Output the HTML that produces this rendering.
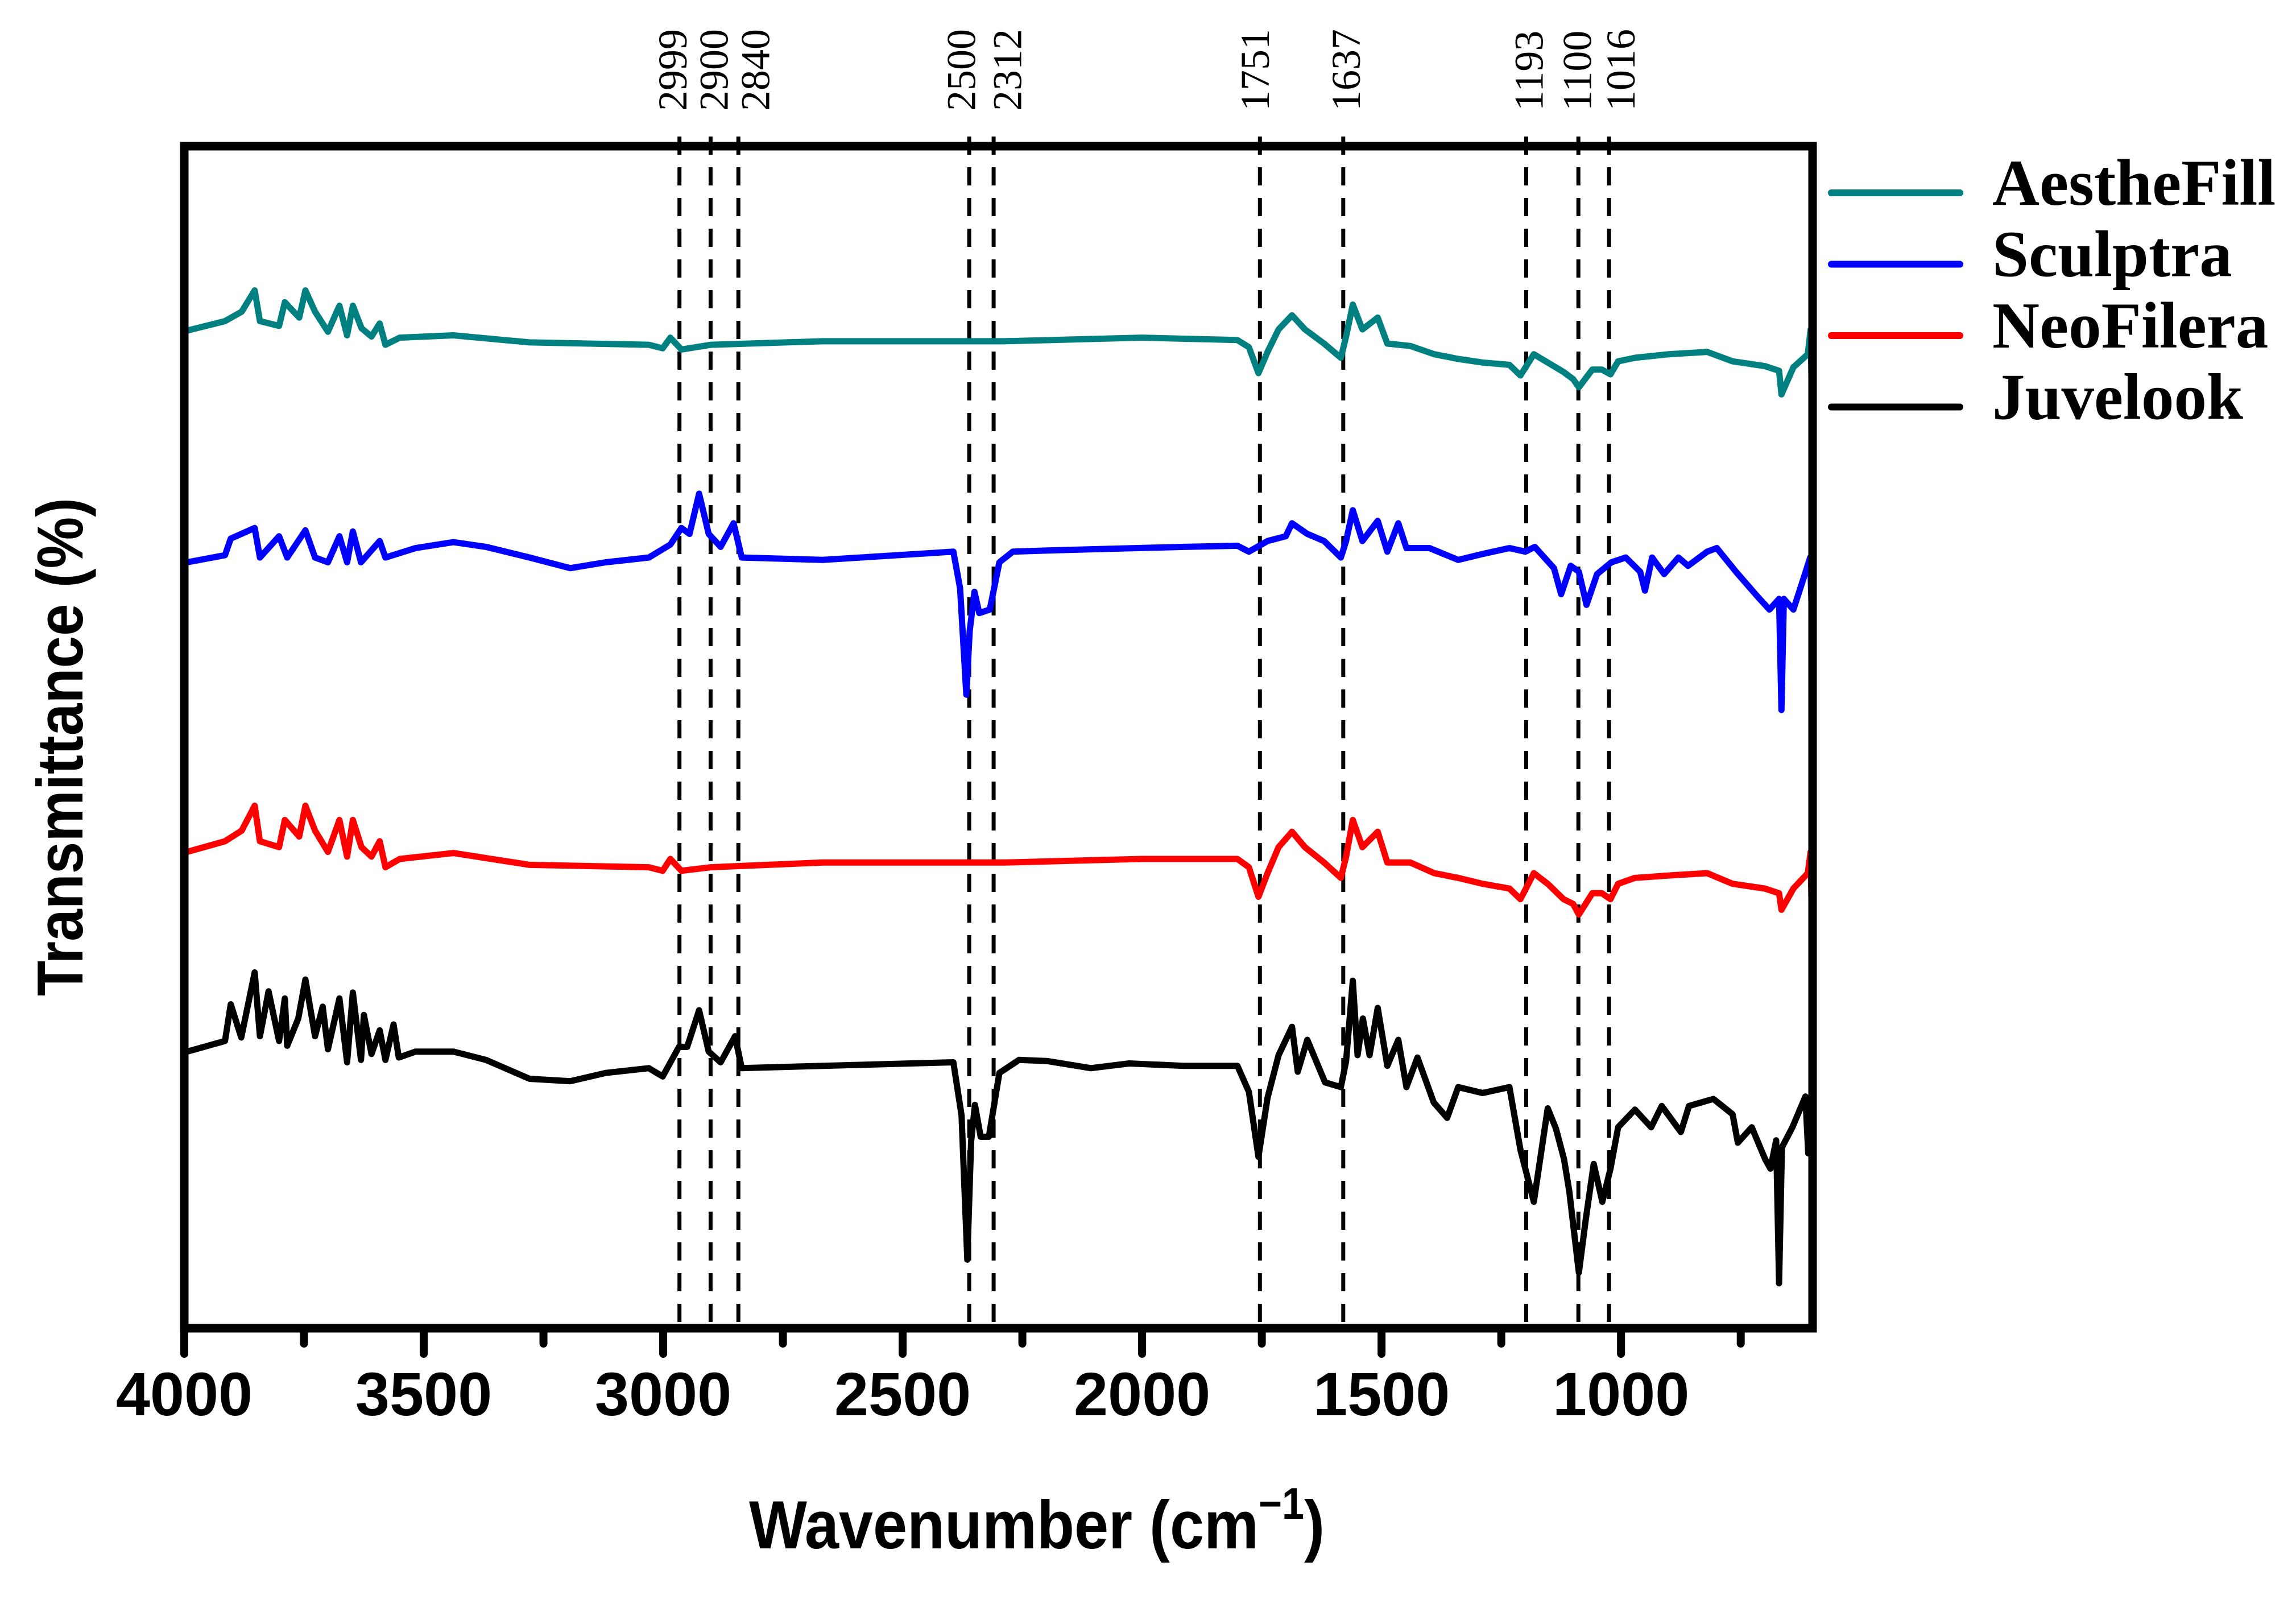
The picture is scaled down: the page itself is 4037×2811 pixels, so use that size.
<!DOCTYPE html>
<html><head><meta charset="utf-8"><style>
html,body{margin:0;padding:0;background:#fff;}
svg{display:block;}
</style></head><body>
<svg id="chart" xmlns="http://www.w3.org/2000/svg" width="4037" height="2811" viewBox="0 0 4037 2811">
<rect x="0" y="0" width="4037" height="2811" fill="#fff"/>
<g id="peaks"></g>
<g id="series"></g>
<rect x="324" y="257" width="2863" height="2078" fill="none" stroke="#000" stroke-width="15"/>
<g id="xticks"></g>
<g transform="translate(1823,2722) scale(0.9,1)">
<text x="0" y="0" text-anchor="middle" font-family="'Liberation Sans',sans-serif" font-weight="bold" font-size="120">Wavenumber (cm<tspan font-size="78" dy="-52">−1</tspan><tspan dy="52">)</tspan></text>
</g>
<text transform="translate(145,1313) rotate(-90)" text-anchor="middle" font-family="'Liberation Sans',sans-serif" font-weight="bold" font-size="114" textLength="876" lengthAdjust="spacingAndGlyphs">Transmittance (%)</text>
<g id="legend"></g>
</svg>
<script>
const xTicks = [4000, 3500, 3000, 2500, 2000, 1500, 1000];
const xMinor = [3750, 3250, 2750, 2250, 1750, 1250, 750];
const peakPos = [2966, 2901, 2843, 2361, 2310, 1754, 1580, 1198, 1089, 1025];
const peakLabelPos = [2980, 2894, 2807, 2377, 2281, 1764, 1574, 1192, 1091, 1000];
const peakText = ["2999", "2900", "2840", "2500", "2312", "1751", "1637", "1193", "1100", "1016"];
const seriesNames = ["AestheFill", "Sculptra", "NeoFilera", "Juvelook"];
const seriesColors = ["#008080", "#0000ff", "#ff0000", "#000000"];

const juvelookWn = [3994,3915,3903,3881,3853,3842,3824,3802,3790,3785,3762,3747,3727,3711,3700,3676,3660,3648,3631,3625,3609,3592,3580,3563,3552,3517,3438,3370,3279,3194,3120,3030,3001,2967,2950,2925,2905,2880,2850,2836,2667,2394,2377,2365,2357,2349,2337,2320,2298,2257,2197,2107,2027,1913,1801,1777,1757,1738,1715,1687,1675,1655,1618,1585,1574,1560,1550,1539,1525,1508,1488,1465,1448,1425,1391,1363,1340,1289,1233,1210,1182,1153,1136,1119,1108,1088,1074,1057,1039,1022,1006,971,937,915,875,858,807,767,756,727,699,688,676,670,664,642,615,609,600];
const juvelookT = [23.4,24.3,27.4,24.6,30.1,24.7,28.5,24.3,27.9,23.9,26.2,29.5,24.7,27.2,23.6,27.9,22.5,28.4,22.7,26.5,23.2,25.2,22.7,25.7,22.9,23.4,23.4,22.7,21.1,20.9,21.6,22.0,21.3,23.8,23.8,26.9,23.4,22.5,24.7,22.0,22.2,22.5,18.0,5.8,15.8,18.9,16.2,16.2,21.6,22.7,22.6,22.0,22.4,22.2,22.2,20.0,14.5,19.5,23.1,25.5,21.7,24.4,20.8,20.4,22.6,29.4,23.1,26.2,23.1,27.1,22.2,24.4,20.4,22.9,19.1,17.8,20.4,19.9,20.4,15.1,10.7,18.6,16.9,14.3,11.6,4.7,9.1,13.9,10.7,13.5,17.0,18.5,17.0,18.8,16.6,18.8,19.4,18.1,15.7,17.0,14.3,13.5,15.9,3.8,15.3,17.0,19.6,14.8,18.0];

const sculptraWn = [3994,3915,3903,3853,3842,3802,3785,3747,3727,3700,3676,3660,3648,3631,3592,3580,3517,3438,3370,3279,3194,3120,3030,2985,2962,2945,2925,2905,2880,2853,2836,2667,2394,2380,2367,2360,2350,2340,2318,2298,2270,2197,1913,1801,1777,1738,1700,1687,1655,1620,1585,1574,1560,1540,1508,1488,1465,1448,1400,1340,1289,1233,1200,1180,1140,1125,1105,1088,1072,1050,1020,990,960,950,935,910,880,860,820,800,760,715,690,670,665,660,640,620,605,600];
const sculptraT = [64.8,65.4,66.8,67.7,65.2,67.0,65.2,67.5,65.2,64.8,67.0,64.8,67.4,64.8,66.6,65.2,66.0,66.5,66.1,65.2,64.3,64.8,65.2,66.3,67.7,67.2,70.6,67.2,66.1,68.1,65.2,65.0,65.7,62.6,53.6,59.0,62.3,60.5,60.8,64.8,65.7,65.8,66.1,66.2,65.7,66.6,67.0,68.1,67.2,66.6,65.2,66.6,69.2,66.6,68.3,65.7,68.1,66.0,66.0,65.0,65.5,66.0,65.7,66.1,64.3,62.1,64.5,64.0,61.2,63.8,64.8,65.2,64.0,62.4,65.2,63.8,65.2,64.5,65.7,66.0,64.0,61.9,60.8,61.7,52.3,61.7,60.8,63.3,65.2,58.1];

const neofileraWn = [3994,3915,3880,3853,3842,3802,3790,3760,3747,3727,3700,3676,3660,3648,3630,3609,3592,3580,3550,3438,3279,3030,3001,2985,2962,2900,2667,2288,2000,1801,1777,1757,1738,1715,1687,1660,1620,1585,1574,1560,1540,1508,1488,1440,1390,1340,1289,1233,1210,1182,1153,1120,1100,1088,1060,1040,1022,1006,971,900,820,767,700,670,665,640,610,604,600];
const neofileraT = [40.3,41.2,42.1,44.2,41.2,40.7,43.0,41.6,44.2,42.1,40.3,43.0,39.9,43.0,40.7,39.9,41.2,39.0,39.7,40.2,39.2,39.0,38.7,39.7,38.7,39.0,39.4,39.4,39.7,39.7,39.0,36.5,38.5,40.7,42.0,40.7,39.4,38.1,39.9,43.0,40.7,42.0,39.4,39.4,38.5,38.1,37.6,37.2,36.3,38.5,37.6,36.3,35.9,35.0,36.8,36.8,36.3,37.6,38.1,38.3,38.5,37.6,37.2,36.8,35.4,37.2,38.5,40.3,30.2];

const aesthefillWn = [3994,3915,3880,3853,3842,3802,3790,3760,3747,3727,3700,3676,3660,3648,3630,3609,3592,3580,3550,3438,3279,3030,3001,2985,2962,2900,2667,2288,2000,1801,1777,1757,1738,1715,1687,1660,1620,1585,1574,1560,1540,1508,1488,1440,1390,1340,1289,1233,1210,1182,1153,1120,1100,1088,1060,1040,1022,1006,971,900,820,767,700,670,665,640,610,604,600];
const aesthefillT = [84.4,85.2,86.0,87.8,85.2,84.8,86.8,85.5,87.8,86.0,84.3,86.5,84.0,86.5,84.6,83.9,85.0,83.2,83.8,84.0,83.4,83.2,82.9,83.8,82.8,83.2,83.5,83.5,83.8,83.6,83.0,80.8,82.6,84.5,85.7,84.5,83.3,82.1,83.9,86.6,84.5,85.5,83.3,83.1,82.4,82.0,81.7,81.5,80.6,82.4,81.7,80.9,80.3,79.6,81.1,81.1,80.7,81.8,82.1,82.4,82.6,81.8,81.4,81.0,79.0,81.3,82.4,84.5,74.5];

const X0 = 324, X1 = 3187, Y0 = 2335, Y1 = 257;
function xScale(w){ return X0 + (4000 - w) * (X1 - X0) / 3400; }
function yScale(t){ return Y0 - t * (Y0 - Y1) / 100; }
const NS = "http://www.w3.org/2000/svg";
function mk(tag, parent){ const e = document.createElementNS(NS, tag); parent.appendChild(e); return e; }

const pk = document.getElementById('peaks');
peakPos.forEach((w, i) => {
  const x = xScale(w);
  const ln = mk('line', pk);
  
  
  ln.setAttribute('x1', x); ln.setAttribute('x2', x);
  ln.setAttribute('y1', 240); ln.setAttribute('y2', 2335);
  ln.setAttribute('stroke', '#000'); ln.setAttribute('stroke-width', 7);
  ln.setAttribute('stroke-dasharray', '32 22');
  const lx = xScale(peakLabelPos[i]);
  const t = mk('text', pk);
  
  
  t.setAttribute('transform', 'translate(' + (lx + 24) + ',195) rotate(-90)');
  t.setAttribute('font-family', "'Liberation Serif',serif");
  t.setAttribute('font-size', 72);
  t.textContent = peakText[i];
});

const sg = document.getElementById('series');
const allWn = [aesthefillWn, sculptraWn, neofileraWn, juvelookWn];
const allT = [aesthefillT, sculptraT, neofileraT, juvelookT];
allWn.forEach((wn, s) => {
  const p = mk('path', sg);
  
  
  let d = '';
  wn.forEach((w, i) => { d += (i ? 'L' : 'M') + xScale(w).toFixed(1) + ',' + yScale(allT[s][i]).toFixed(1); });
  p.setAttribute('d', d);
  p.setAttribute('fill', 'none');
  p.setAttribute('stroke', seriesColors[s]);
  p.setAttribute('stroke-width', 11);
  p.setAttribute('stroke-linejoin', 'round');
});

const xt = document.getElementById('xticks');
xTicks.forEach(v => {
  const x = xScale(v);
  const l = mk('line', xt);
  
  
  l.setAttribute('x1', x); l.setAttribute('x2', x); l.setAttribute('y1', 2335); l.setAttribute('y2', 2380);
  l.setAttribute('stroke', '#000'); l.setAttribute('stroke-width', 14); l.setAttribute('stroke-linecap', 'round');
  const t = mk('text', xt);
  
  
  t.setAttribute('x', x); t.setAttribute('y', 2488);
  t.setAttribute('text-anchor', 'middle');
  t.setAttribute('font-family', "'Liberation Sans',sans-serif");
  t.setAttribute('font-weight', 'bold');
  t.setAttribute('font-size', 108);
  t.textContent = v;
});
xMinor.forEach(v => {
  const x = xScale(v);
  const l = mk('line', xt);
  
  
  l.setAttribute('x1', x); l.setAttribute('x2', x); l.setAttribute('y1', 2335); l.setAttribute('y2', 2362);
  l.setAttribute('stroke', '#000'); l.setAttribute('stroke-width', 14); l.setAttribute('stroke-linecap', 'round');
});

const lg = document.getElementById('legend');
seriesNames.forEach((n, i) => {
  const y = 339 + i * 125.5;
  const l = mk('line', lg);
  
  
  l.setAttribute('x1', 3220); l.setAttribute('x2', 3446); l.setAttribute('y1', y); l.setAttribute('y2', y);
  l.setAttribute('stroke', seriesColors[i]); l.setAttribute('stroke-width', 12); l.setAttribute('stroke-linecap', 'round');
  const t = mk('text', lg);
  
  
  t.setAttribute('x', 3503); t.setAttribute('y', y + 21);
  t.setAttribute('font-family', "'Liberation Serif',serif");
  t.setAttribute('font-weight', 'bold');
  t.setAttribute('font-size', 115);
  t.textContent = n;
});
</script>
</body></html>
